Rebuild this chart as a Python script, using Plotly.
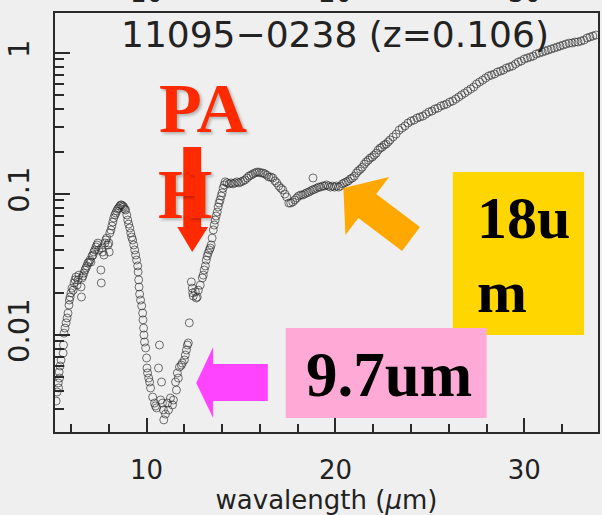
import plotly.graph_objects as go

# Rest-frame spectrum of IRAS 11095-0238 (wavelength in micron, flux density in Jy)
wavelength_um = [
    5.21, 5.26, 5.32, 5.34, 5.37, 5.39, 5.42, 5.47, 5.58, 5.60, 5.63, 5.68, 5.74, 5.79, 5.84,
    5.89, 5.91, 5.95, 6.00, 6.05, 6.11, 6.16, 6.21, 6.26, 6.32, 6.37, 6.42, 6.53, 6.55, 6.58,
    6.63, 6.68, 6.74, 6.79, 6.84, 6.89, 6.95, 7.00, 7.05, 7.11, 7.16, 7.21, 7.26, 7.32, 7.37,
    7.42, 7.47, 7.58, 7.60, 7.63, 7.68, 7.74, 7.79, 7.84, 7.89, 7.95, 8.00, 8.02, 8.05, 8.11,
    8.16, 8.21, 8.26, 8.32, 8.37, 8.42, 8.47, 8.53, 8.58, 8.63, 8.68, 8.74, 8.79, 8.84, 8.89,
    8.95, 9.00, 9.05, 9.11, 9.16, 9.21, 9.26, 9.32, 9.37, 9.42, 9.47, 9.53, 9.55, 9.58, 9.60,
    9.63, 9.68, 9.74, 9.79, 9.81, 9.84, 9.86, 9.89, 9.95, 10.00, 10.02, 10.05, 10.11, 10.16, 10.21,
    10.32, 10.42, 10.47, 10.53, 10.63, 10.68, 10.74, 10.79, 10.84, 10.89, 10.91, 11.00, 11.11, 11.16, 11.26,
    11.37, 11.42, 11.53, 11.58, 11.63, 11.68, 11.74, 11.84, 11.89, 12.00, 12.05, 12.11, 12.16, 12.21, 12.26,
    12.37, 12.42, 12.44, 12.47, 12.58, 12.63, 12.68, 12.74, 12.84, 12.95, 13.00, 13.05, 13.11, 13.16, 13.21,
    13.26, 13.32, 13.37, 13.42, 13.47, 13.53, 13.58, 13.63, 13.68, 13.74, 13.79, 13.84, 13.89, 13.95, 14.00,
    14.05, 14.11, 14.16, 14.26, 14.37, 14.47, 14.58, 14.68, 14.79, 14.89, 15.00, 15.11, 15.21, 15.32, 15.42,
    15.53, 15.63, 15.74, 15.84, 15.95, 16.05, 16.16, 16.26, 16.37, 16.47, 16.58, 16.68, 16.79, 16.89, 17.00,
    17.11, 17.21, 17.32, 17.42, 17.53, 17.63, 17.74, 17.84, 17.95, 18.05, 18.16, 18.26, 18.37, 18.47, 18.58,
    18.68, 18.79, 18.81, 18.89, 19.00, 19.11, 19.21, 19.32, 19.42, 19.53, 19.63, 19.74, 19.84, 19.95, 20.05,
    20.16, 20.26, 20.37, 20.47, 20.58, 20.68, 20.79, 20.89, 21.00, 21.11, 21.21, 21.32, 21.42, 21.53, 21.63,
    21.74, 21.84, 21.95, 22.05, 22.16, 22.26, 22.37, 22.47, 22.58, 22.68, 22.79, 22.89, 23.05, 23.21, 23.37,
    23.53, 23.68, 23.84, 24.00, 24.16, 24.32, 24.47, 24.63, 24.79, 24.95, 25.11, 25.26, 25.42, 25.58, 25.74,
    25.89, 26.05, 26.21, 26.37, 26.53, 26.68, 26.84, 27.00, 27.16, 27.32, 27.47, 27.63, 27.79, 27.95, 28.11,
    28.26, 28.42, 28.58, 28.74, 28.89, 29.05, 29.21, 29.37, 29.53, 29.68, 29.84, 30.00, 30.16, 30.32, 30.47,
    30.63, 30.79, 30.95, 31.11, 31.26, 31.42, 31.58, 31.74, 31.89, 32.05, 32.21, 32.37, 32.53, 32.68, 32.84,
    33.00, 33.16, 33.32, 33.47, 33.63, 33.79,
]

flux_jy = [
    0.00340, 0.00394, 0.00457, 0.00421, 0.00547, 0.00495, 0.00603, 0.00665, 0.00745, 0.00849, 0.0103, 0.0112, 0.0122, 0.0132, 0.0143,
    0.0163, 0.0177, 0.0186, 0.0199, 0.0215, 0.0208, 0.0234, 0.0246, 0.0258, 0.0226, 0.0246, 0.0266, 0.0219, 0.0186, 0.0254,
    0.0262, 0.0275, 0.0289, 0.0299, 0.0309, 0.0324, 0.0329, 0.0340, 0.0329, 0.0363, 0.0369, 0.0388, 0.0401, 0.0421, 0.0435,
    0.0449, 0.0401, 0.0289, 0.0234, 0.0414, 0.0388, 0.0369, 0.0449, 0.0472, 0.0487, 0.0435, 0.0449, 0.0388, 0.0529, 0.0556,
    0.0593, 0.0633, 0.0676, 0.0710, 0.0733, 0.0758, 0.0783, 0.0796, 0.0822, 0.0836, 0.0836, 0.0822, 0.0809, 0.0783, 0.0770,
    0.0710, 0.0654, 0.0612, 0.0574, 0.0529, 0.0495, 0.0472, 0.0435, 0.0401, 0.0369, 0.0340, 0.0309, 0.0280, 0.0246, 0.0219,
    0.0195, 0.0177, 0.0161, 0.0143, 0.0128, 0.0112, 0.0100, 0.00892, 0.00809, 0.00687, 0.00583, 0.00538, 0.00495, 0.00464, 0.00421,
    0.00363, 0.00329, 0.00314, 0.00304, 0.00583, 0.00849, 0.00346, 0.00464, 0.00329, 0.00294, 0.00250, 0.00275, 0.00329, 0.00294, 0.00357,
    0.00319, 0.00346, 0.00464, 0.00407, 0.00538, 0.00495, 0.00593, 0.00612, 0.00633, 0.00665, 0.00721, 0.00783, 0.00849, 0.00878, 0.0122,
    0.0238, 0.0215, 0.0199, 0.0189, 0.0202, 0.0183, 0.0186, 0.0208, 0.0226, 0.0254, 0.0266, 0.0289, 0.0309, 0.0340, 0.0363,
    0.0382, 0.0401, 0.0414, 0.0435, 0.0487, 0.0556, 0.0603, 0.0654, 0.0698, 0.0745, 0.0809, 0.0863, 0.0907, 0.0968, 0.102,
    0.110, 0.116, 0.122, 0.120, 0.118, 0.120, 0.118, 0.120, 0.122, 0.120, 0.122, 0.124, 0.126, 0.130, 0.134,
    0.136, 0.139, 0.141, 0.143, 0.143, 0.141, 0.141, 0.139, 0.136, 0.132, 0.132, 0.130, 0.124, 0.120, 0.114,
    0.110, 0.107, 0.100, 0.0952, 0.0863, 0.0863, 0.0878, 0.0907, 0.0937, 0.0968, 0.0984, 0.0984, 0.100, 0.102, 0.103,
    0.105, 0.107, 0.130, 0.108, 0.110, 0.112, 0.112, 0.114, 0.114, 0.116, 0.114, 0.112, 0.114, 0.112, 0.114,
    0.112, 0.114, 0.118, 0.120, 0.122, 0.124, 0.128, 0.130, 0.134, 0.141, 0.146, 0.150, 0.155, 0.163, 0.169,
    0.174, 0.180, 0.183, 0.189, 0.195, 0.205, 0.212, 0.215, 0.223, 0.226, 0.234, 0.242, 0.254, 0.266, 0.284,
    0.294, 0.304, 0.319, 0.329, 0.335, 0.346, 0.352, 0.357, 0.369, 0.382, 0.388, 0.401, 0.407, 0.421, 0.428,
    0.435, 0.449, 0.457, 0.472, 0.488, 0.504, 0.520, 0.538, 0.556, 0.574, 0.603, 0.623, 0.643, 0.665, 0.687,
    0.698, 0.710, 0.733, 0.745, 0.758, 0.783, 0.796, 0.809, 0.836, 0.863, 0.878, 0.907, 0.922, 0.937, 0.952,
    0.984, 1.000, 1.016, 1.033, 1.050, 1.067, 1.085, 1.103, 1.121, 1.139, 1.158, 1.177, 1.177, 1.197, 1.197,
    1.216, 1.236, 1.278, 1.299, 1.320, 1.342,
]

x_range = [5.15, 33.9]
y_range_log = [-2.688, 0.284]
x_ticks = [10, 20, 30]
y_ticks = [0.01, 0.1, 1]
y_tick_text = ["0.01", "0.1", "1"]
y_minor = [m * d for d in (0.001, 0.01, 0.1) for m in range(2, 10)] + [2.0]

title_text = "11095\u22120238 (z=0.106)"
x_title = "wavalength (<i>\u03bc</i>m)"

W, H = 602, 515
L, R, T, B = 54, 600, 13, 432  # plot-area edges in pixels
BG = "#efefef"
AX = "#2a2a2a"
SANS = "DejaVu Sans"
SERIF = "Liberation Serif"


def fx(x):
    return (x - L) / (R - L)


def fy(y):
    return (B - y) / (B - T)


def poly(points):
    return "M " + " L ".join(f"{fx(x):.5f},{fy(y):.5f}" for x, y in points) + " Z"


fig = go.Figure()
fig.add_trace(go.Scatter(
    x=wavelength_um, y=flux_jy, mode="markers",
    marker=dict(symbol="circle-open", size=8, color="rgba(40,40,40,0.65)",
                line=dict(width=1)),
    showlegend=False, hoverinfo="skip",
))

# block arrows and label boxes
shapes = [
    dict(type="path", path=poly([(183, 147), (201, 147), (201, 227), (208, 227),
                                  (192, 252), (177, 227), (183, 227)]),
         fillcolor="#ff2a00", line=dict(width=0)),
    dict(type="path", path=poly([(344, 188), (390, 177), (377, 194), (421, 227),
                                  (403, 251), (359, 218), (346, 235)]),
         fillcolor="#ffa800", line=dict(width=0)),
    dict(type="path", path=poly([(196, 383), (213, 347), (213, 364), (268, 364),
                                  (268, 401), (213, 401), (213, 418)]),
         fillcolor="#ff44ff", line=dict(width=0)),
    dict(type="rect", x0=fx(454), x1=fx(586), y0=fy(335), y1=fy(172),
         fillcolor="#ffd600", line=dict(width=0)),
    dict(type="rect", x0=fx(286), x1=fx(488), y0=fy(418), y1=fy(328),
         fillcolor="#ffaad6", line=dict(width=0)),
]
for s in shapes:
    s.update(xref="paper", yref="paper", layer="above")

shadow = "2px 2px 3px rgba(0,0,0,0.25)"
annotations = [
    dict(text=title_text, x=fx(336), y=fy(35), xanchor="center", yanchor="middle",
         font=dict(family=SANS, size=36, color="#222222")),
    dict(text="<b>PA</b>", x=fx(203), y=fy(109), xanchor="center", yanchor="middle",
         font=dict(family=SERIF, size=70, color="#ff2a00", shadow=shadow)),
    dict(text="<b>H</b>", x=fx(185), y=fy(194), xanchor="center", yanchor="middle",
         font=dict(family=SERIF, size=70, color="#ff2a00", shadow=shadow)),
    dict(text="<b>18u</b>", x=fx(476), y=fy(218), xanchor="left", yanchor="middle",
         font=dict(family=SERIF, size=60, color="#000000")),
    dict(text="<b>m</b>", x=fx(476), y=fy(292), xanchor="left", yanchor="middle",
         font=dict(family=SERIF, size=60, color="#000000")),
    dict(text="<b>9.7um</b>", x=fx(390), y=fy(375), xanchor="center", yanchor="middle",
         font=dict(family=SERIF, size=63, color="#000000")),
]
for a in annotations:
    a.update(xref="paper", yref="paper", showarrow=False)

# top-axis tick labels sit above the frame and run off the top edge of the page
for v in x_ticks:
    annotations.append(dict(text=str(v), x=v, xref="x", y=fy(10), yref="paper",
                            xanchor="center", yanchor="bottom", showarrow=False,
                            font=dict(family=SANS, size=26, color="#222222")))

axis_common = dict(showline=True, linecolor=AX, linewidth=2, ticks="inside",
                   tickcolor=AX, tickwidth=1.5, showgrid=False, zeroline=False)

fig.update_layout(
    width=W, height=H,
    margin=dict(l=L, r=W - R, t=T, b=H - B),
    paper_bgcolor=BG, plot_bgcolor=BG,
    font=dict(family=SANS, color="#222222"),
    xaxis=dict(**axis_common, range=x_range, mirror=True,
               tickvals=x_ticks, ticklen=14,
               minor=dict(ticks="inside", dtick=2, tick0=0, ticklen=8,
                          tickcolor=AX, tickwidth=1.5),
               tickfont=dict(size=26), ticklabelstandoff=14,
               title=dict(text=x_title, font=dict(size=26), standoff=10)),
    xaxis2=dict(**axis_common, range=x_range, overlaying="x", side="top",
                tickvals=x_ticks, ticklen=14, showticklabels=False,
                minor=dict(ticks="inside", dtick=2, tick0=0, ticklen=8,
                           tickcolor=AX, tickwidth=1.5)),
    yaxis=dict(**axis_common, type="log", range=y_range_log, mirror=True,
               tickvals=y_ticks, ticktext=y_tick_text, ticklen=15,
               tickangle=-90, tickfont=dict(size=29), ticklabelstandoff=12,
               minor=dict(ticks="inside", tickvals=y_minor, ticklen=9,
                          tickcolor=AX, tickwidth=1.5)),
    shapes=shapes,
    annotations=annotations,
)

fig.write_html("out.html")
